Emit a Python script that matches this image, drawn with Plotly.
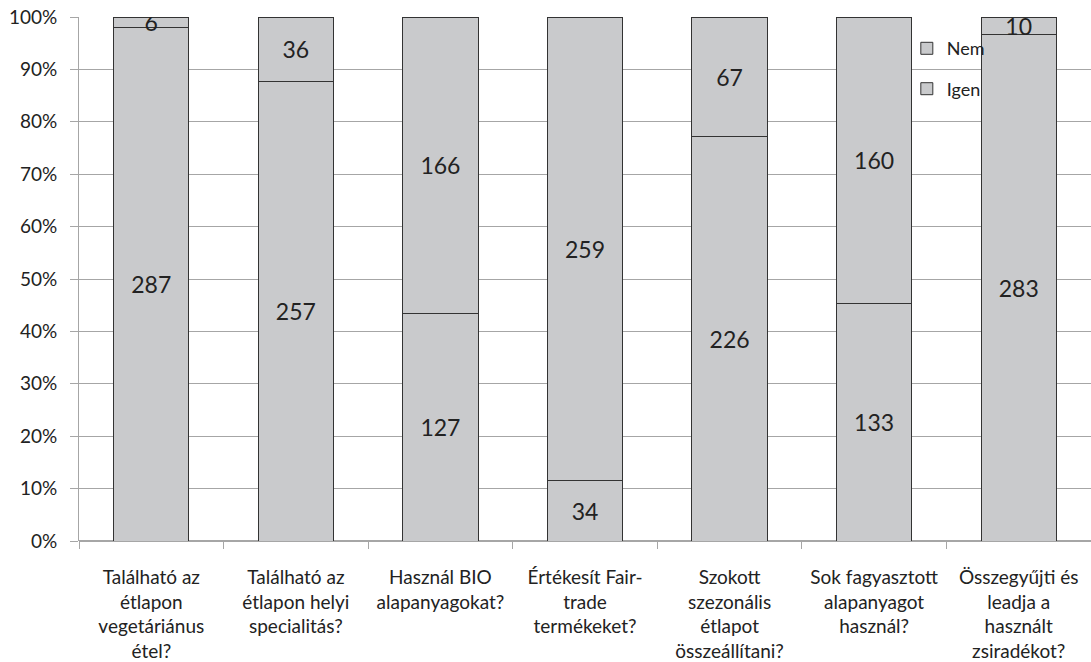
import plotly.graph_objects as go

categories = [
    "Található az<br>étlapon<br>vegetáriánus<br>étel?",
    "Található az<br>étlapon helyi<br>specialitás?",
    "Használ BIO<br>alapanyagokat?",
    "Értékesít Fair-<br>trade<br>termékeket?",
    "Szokott<br>szezonális<br>étlapot<br>összeállítani?",
    "Sok fagyasztott<br>alapanyagot<br>használ?",
    "Összegyűjti és<br>leadja a<br>használt<br>zsiradékot?",
]
igen = [287, 257, 127, 34, 226, 133, 283]
nem = [6, 36, 166, 259, 67, 160, 10]
y_ticks = [0, 10, 20, 30, 40, 50, 60, 70, 80, 90, 100]

FONT = "Lato, 'Open Sans', sans-serif"
BAR_FILL = "#c9cacc"
BAR_LINE = "#333333"
GRID = "#a6a6a6"

fig = go.Figure()
for name, vals, rank in (("Igen", igen, 2), ("Nem", nem, 1)):
    fig.add_trace(go.Bar(
        x=categories, y=vals, name=name, legendrank=rank, legendgroup=name,
        text=[str(v) for v in vals], textposition="inside",
        insidetextanchor="middle", textangle=0,
        textfont=dict(size=23, color="#222222", family=FONT),
        marker=dict(color=BAR_FILL, line=dict(color=BAR_LINE, width=1)),
    ))

fig.update_layout(
    barmode="stack", barnorm="percent", bargap=0.48,
    width=1091, height=662,
    margin=dict(l=79, r=0, t=17, b=121),
    paper_bgcolor="white", plot_bgcolor="white",
    font=dict(family=FONT, size=19, color="#222222"),
    uniformtext=dict(minsize=23, mode="show"),
    legend=dict(
        x=0.818, y=0.975, xanchor="left", yanchor="top",
        traceorder="grouped", tracegroupgap=14,
        bgcolor="rgba(0,0,0,0)", font=dict(size=18, family=FONT),
        itemwidth=30,
    ),
    showlegend=True,
)
fig.update_xaxes(
    tickson="boundaries", ticks="outside", ticklen=7, tickcolor=GRID,
    showline=False, showgrid=False, ticklabelstandoff=23, automargin=False,
    tickfont=dict(size=19, family=FONT),
)
fig.update_yaxes(
    range=[0, 100], tickvals=y_ticks,
    ticktext=[f"{v}%" for v in y_ticks],
    ticks="outside", ticklen=8, tickcolor=GRID,
    showgrid=True, gridcolor=GRID, gridwidth=1,
    showline=True, linecolor=GRID, linewidth=1, automargin=False,
    zeroline=True, zerolinecolor=GRID, ticklabelstandoff=9,
    tickfont=dict(size=19, family=FONT),
)

fig.write_html("out.html")
